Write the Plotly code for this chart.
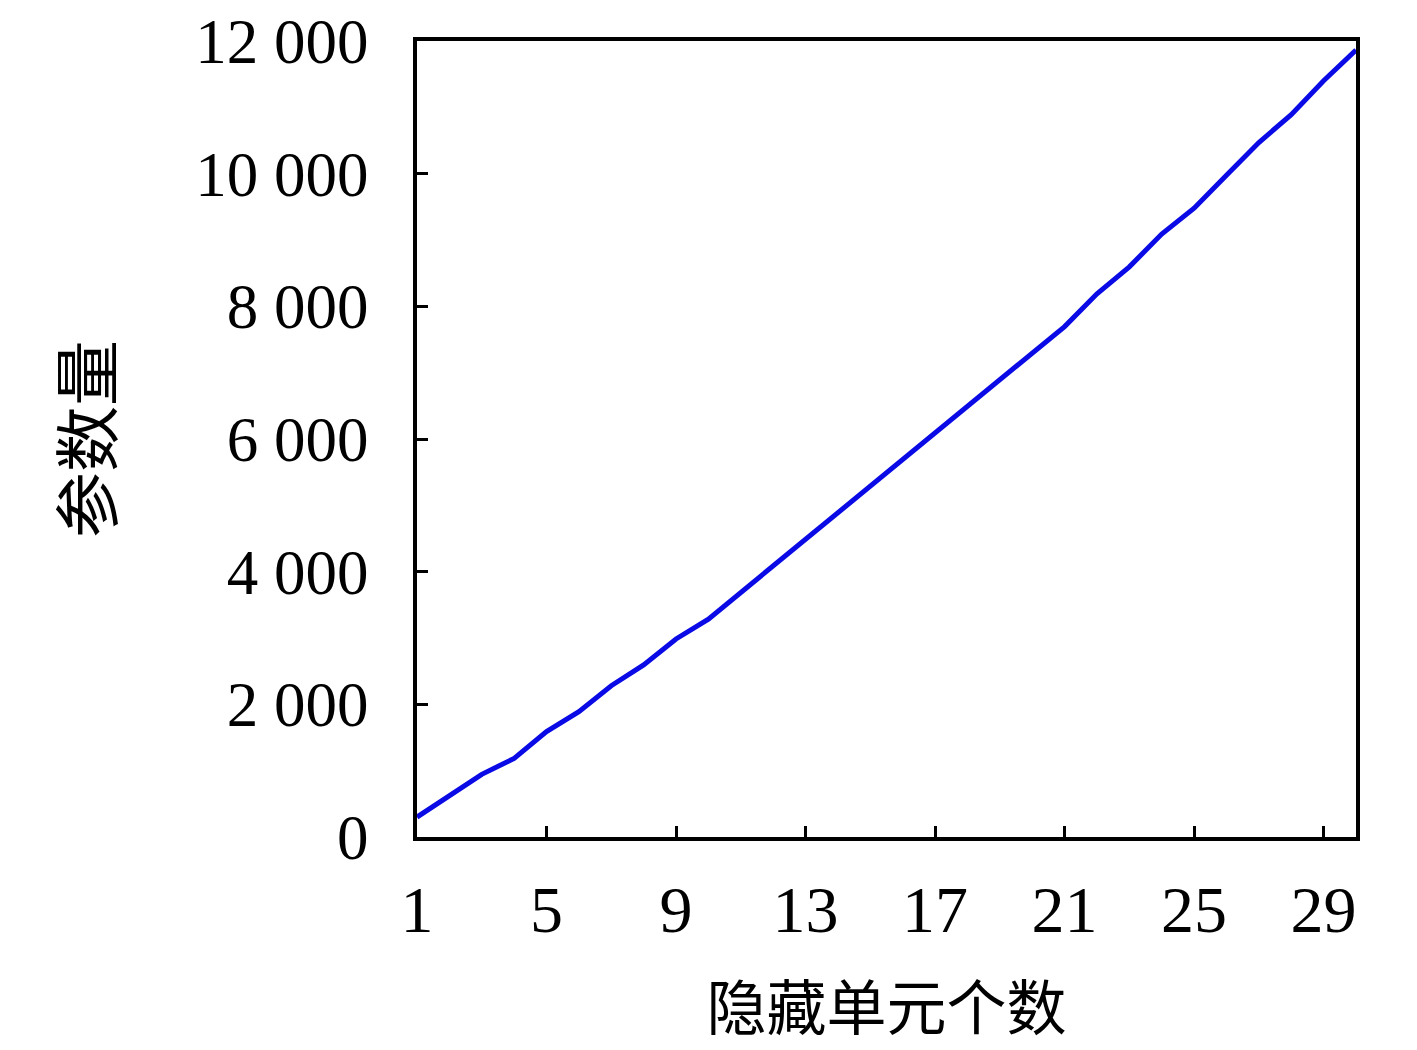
import plotly.graph_objects as go

# 隐藏单元个数 vs 参数量
hidden_units = list(range(1, 31))
param_counts = [300, 630, 945, 1185, 1590, 1890, 2280, 2595, 2985, 3285,
                3685, 4085, 4490, 4890, 5290, 5690, 6095, 6495, 6895, 7295,
                7695, 8190, 8595, 9090, 9480, 9975, 10470, 10890, 11400, 11865]

x_ticks = [1, 5, 9, 13, 17, 21, 25, 29]
y_ticks = [0, 2000, 4000, 6000, 8000, 10000, 12000]
y_tick_text = ["0", "2 000", "4 000", "6 000", "8 000", "10 000", "12 000"]

font_main = "Liberation Serif, Noto Sans CJK SC"

fig = go.Figure(go.Scatter(x=hidden_units, y=param_counts, mode="lines",
                           line=dict(color="#0a0ae6", width=5)))

fig.update_layout(
    width=1417, height=1050,
    margin=dict(l=409, r=69, t=33, b=221),
    plot_bgcolor="white", paper_bgcolor="white",
    showlegend=False,
    font=dict(family=font_main, size=66, color="black"),
)
fig.update_xaxes(range=[1, 30], tickvals=x_ticks, ticks="inside", ticklen=11,
                 tickwidth=3, tickcolor="black", showline=True, linewidth=4,
                 linecolor="black", mirror=True, showgrid=False, zeroline=False,
                 ticklabelstandoff=12, ticklabeloverflow="allow", automargin=False,
                 title=dict(text="隐藏单元个数", standoff=44,
                            font=dict(family="Noto Sans CJK SC", size=60)))
fig.update_yaxes(range=[0, 12000], tickvals=y_ticks, ticktext=y_tick_text,
                 tickfont=dict(size=63),
                 ticks="inside", ticklen=11, tickwidth=3, tickcolor="black",
                 showline=True, linewidth=4, linecolor="black", mirror=True,
                 showgrid=False, zeroline=False, ticklabelstandoff=32,
                 ticklabeloverflow="allow", automargin=False,
                 title=dict(text="参数量", standoff=62,
                            font=dict(family="Noto Sans CJK SC", size=66)))

fig.write_html("out.html")
